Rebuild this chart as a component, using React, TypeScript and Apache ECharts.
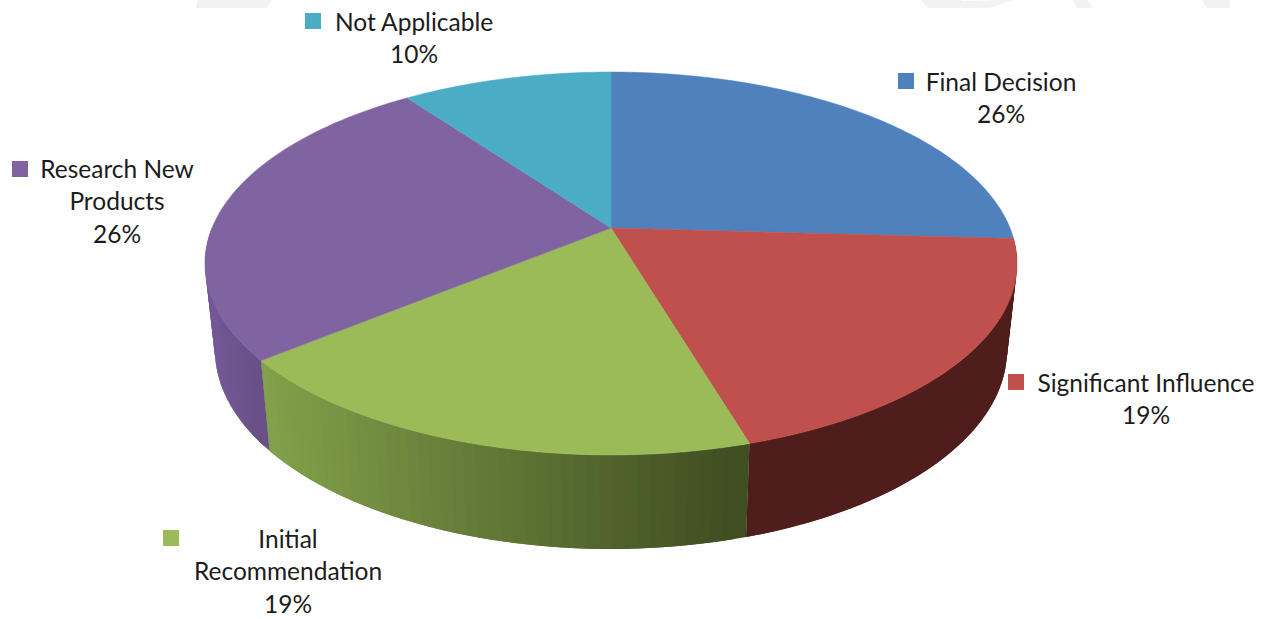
import React, { useEffect, useRef } from "react";
import * as echarts from "echarts";

const categories = ["Final Decision", "Significant Influence", "Initial Recommendation", "Research New Products", "Not Applicable"];
const values = [25.9, 19.49, 18.7, 25.91, 10.0];
const topColors = ["#4f81bd", "#c0504d", "#9bbb59", "#8064a2", "#4bacc6"];
const wallFrom = ["#1f3350", "#4f1e1c", "#3f4f22", "#6a5086", "#1e4450"];
const wallTo = ["#1f3350", "#4f1e1c", "#84a34b", "#735996", "#1e4450"];

const labelLines = [["Final Decision"], ["Significant Influence"], ["Initial", "Recommendation"], ["Research New", "Products"], ["Not Applicable"]];
const labelCenterX = [1001, 1146, 288, 117, 414];
const labelTopY = [81, 382, 538, 168, 21];
const keyX = [898, 1008, 163, 12, 305];
const keyY = [73, 374, 530, 161, 13];

const FONT = "Lato, Carlito, Calibri, sans-serif";
const FONT_SIZE = 24.5;
const LINE = 32.5;

// Perspective projection of the pie's two discs (k is the tilt).
const TILT = 0.1854;
const TOP_DISC = { cx: 611, y0: 228, a: 399, b: 184.9 };
const BOTTOM_DISC = { cx: 611, y0: 313.3, a: 389.2, b: 192 };
const STEP = 1.5;

type Disc = typeof TOP_DISC;
function rim(d: Disc, deg: number): number[] {
  const t = (deg * Math.PI) / 180;
  const u = Math.sin(t);
  const v = -Math.cos(t);
  const w = 1 - TILT * v;
  return [d.cx + (d.a * u) / w, d.y0 + (d.b * v) / w];
}
function hex(c: string) {
  return [1, 3, 5].map((i) => parseInt(c.slice(i, i + 2), 16));
}
function mix(a: string, b: string, t: number) {
  const x = hex(a);
  const y = hex(b);
  return `rgb(${x.map((v, i) => Math.round(v + (y[i] - v) * t)).join(",")})`;
}
const total = values.reduce((s, v) => s + v, 0);
const starts: number[] = [];
values.reduce((acc, v, i) => {
  starts[i] = (acc / total) * 360;
  return acc + v;
}, 0);

function sliceRange(i: number) {
  return [starts[i], starts[i] + (values[i] / total) * 360];
}

export default function App() {
  const ref = useRef<HTMLDivElement>(null);
  useEffect(() => {
    document.body.style.margin = "0";
    const chart = echarts.init(ref.current!, null, { renderer: "svg" });
    chart.setOption({
      animation: false,
      backgroundColor: "#ffffff",
      graphic: [
        { type: "polygon", silent: true, shape: { points: [[198, 0], [272, 0], [267, 8], [196, 8]] }, style: { fill: "#f2f2f2" } },
        { type: "polygon", silent: true, shape: { points: [[921, 0], [961, 0], [962, 1], [1000, 0], [1013, 0], [990, 8], [928, 8]] }, style: { fill: "#f2f2f2" } },
        { type: "polygon", silent: true, shape: { points: [[1073, 0], [1087, 0], [1093, 8], [1077, 8]] }, style: { fill: "#f2f2f2" } },
        { type: "polygon", silent: true, shape: { points: [[1202, 0], [1230, 0], [1230, 8], [1207, 8]] }, style: { fill: "#f2f2f2" } },
      ],
      series: [
        {
          type: "custom",
          coordinateSystem: "none",
          silent: true,
          data: values.map((v, i) => [i, v]),
          renderItem: (params: any) => {
            const i = params.dataIndex;
            const [a0, a1] = sliceRange(i);
            const children: any[] = [];
            // side wall: only the part of the rim that faces the viewer
            const from = Math.max(a0, 90);
            const to = Math.min(a1, 270);
            if (to - from > 5) {
              const steps = Math.ceil((to - from) / STEP);
              const xStart = rim(BOTTOM_DISC, from)[0];
              const xEnd = rim(BOTTOM_DISC, to)[0];
              // each band overlaps the one drawn after it, so no seams show
              for (let n = steps - 1; n >= 0; n--) {
                const a = from + ((to - from) * n) / steps;
                const b = Math.min(a + STEP * 2, to);
                // the shade runs across the picture, left to right
                const t = (rim(BOTTOM_DISC, a)[0] - xStart) / (xEnd - xStart);
                const fill = mix(wallFrom[i], wallTo[i], t);
                children.push({
                  type: "polygon",
                  shape: { points: [rim(TOP_DISC, a), rim(TOP_DISC, b), rim(BOTTOM_DISC, b), rim(BOTTOM_DISC, a)] },
                  style: { fill },
                });
              }
            }
            return { type: "group", children };
          },
          z: 1,
        },
        {
          type: "custom",
          coordinateSystem: "none",
          silent: true,
          data: values.map((v, i) => [i, v]),
          renderItem: (params: any) => {
            const i = params.dataIndex;
            const [a0, a1] = sliceRange(i);
            const pts: number[][] = [[TOP_DISC.cx, TOP_DISC.y0]];
            for (let a = a0; a < a1; a += 1) pts.push(rim(TOP_DISC, a));
            pts.push(rim(TOP_DISC, a1));
            const texts = [...labelLines[i], `${Math.round(values[i])}%`];
            return {
              type: "group",
              children: [
                { type: "polygon", shape: { points: pts }, style: { fill: topColors[i], stroke: topColors[i], lineWidth: 0.5 } },
                { type: "rect", shape: { x: keyX[i], y: keyY[i], width: 16, height: 16 }, style: { fill: topColors[i] } },
                ...texts.map((s, k) => ({
                  type: "text",
                  x: labelCenterX[i],
                  y: labelTopY[i] + k * LINE,
                  style: { text: s, fill: "#1c1c1c", font: `${FONT_SIZE}px ${FONT}`, textAlign: "center", textVerticalAlign: "middle" },
                })),
              ],
            };
          },
          z: 2,
        },
      ],
    });
    return () => chart.dispose();
  }, []);
  return <div ref={ref} style={{ position: "fixed", left: 0, top: 0, width: 1270, height: 619 }} aria-label={categories.join(", ")} />;
}
